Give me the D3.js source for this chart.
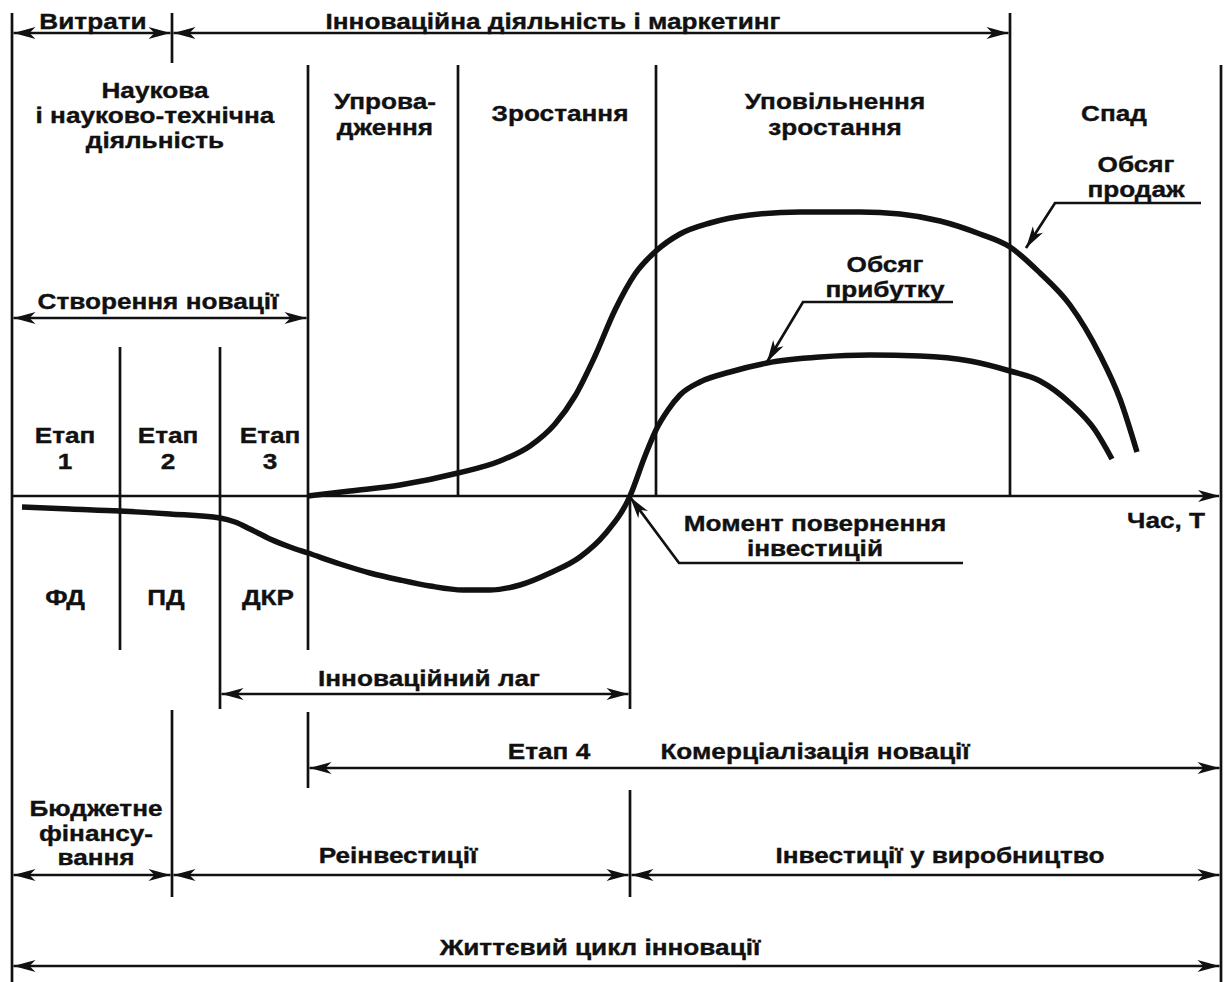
<!DOCTYPE html>
<html>
<head>
<meta charset="utf-8">
<script src="https://cdn.jsdelivr.net/npm/d3@7"></script>
<style>
  html, body { margin: 0; padding: 0; background: #fff; }
  svg text { font-family: "Liberation Sans", Arial, sans-serif; font-weight: bold; font-size: 22px; fill: #111; stroke: #111; stroke-width: 0.35px; }
</style>
</head>
<body>
<div id="chart"></div>
<script>
// time in conventional units (0 .. 121), value in conventional units (0 = break-even)
const salesCurve = [
  [29.6, 0], [33.8, 0.5], [38.8, 1.1], [44.6, 2.3], [48.8, 3.5], [51.8, 5], [54.3, 7.2],
  [56.3, 10], [58.3, 14], [60.3, 18.6], [62.3, 22.2], [64.4, 24.5], [66.8, 26.2], [69.8, 27.3],
  [73.8, 28.1], [78.8, 28.4], [84.8, 28.4], [88.8, 28.2], [92.8, 27.5], [96.8, 26.2],
  [99.8, 24.9], [102.8, 22.3], [105.8, 19.1], [108.8, 14.1], [110.8, 9.7], [112.5, 4.4]
]
const cashCurve = [
  [1, -1.1], [5.8, -1.3], [10.8, -1.5], [15.8, -1.8], [20.8, -2.2], [22.3, -2.6], [23.8, -3.3],
  [25.8, -4.3], [27.8, -5.1], [29.6, -5.7], [32.8, -6.8], [35.8, -7.7], [38.8, -8.4],
  [41.8, -9], [45.1, -9.4], [47.8, -9.4], [50.8, -8.9], [53.8, -7.7], [56.8, -6.1],
  [59.3, -3.8], [61.8, 0], [63.3, 4], [64.4, 6.6], [65.6, 8.6], [66.8, 10.1], [68.8, 11.4],
  [71.8, 12.4], [75.5, 13.3], [80.8, 13.9], [85.8, 14.1], [90.8, 14], [95.8, 13.5],
  [99.8, 12.5], [102.8, 11.5], [105.8, 9.3], [108.3, 6.6], [110, 3.7]
]

// moments on the time axis
const tStart = 0
const tStage1 = 10.8
const tBudget = 16
const tStage2 = 20.8
const tStage3 = 29.6
const tIntro = 44.6
const tPayback = 61.8
const tGrowth = 64.4
const tDecline = 99.8
const tEnd = 120.9

// pointers to the curves: [time, value] from label end to tip
const salesPointer = [[118.9, 29.3], [104.3, 29.3], [101.4, 24.8]]
const profitPointer = [[94.1, 19.4], [79.1, 19.4], [75.5, 13.4]]
const paybackPointer = [[95.1, -6.7], [66.7, -6.7], [tPayback, -0.1]]

const width = 1224
const height = 982

const x = d3.scaleLinear().domain([0, 121]).range([12, 1222])
const y = d3.scaleLinear().domain([-10, 30]).range([596, 196])

const svg = d3.select('#chart')
  .append('svg')
  .attr('width', width)
  .attr('height', height)

const ink = '#111'

// arrow head with its tip at (px, py), pointing by angle (deg)
function head (px, py, angle) {
  svg.append('path')
    .attr('d', 'M0,0L-22,-6L-16,0L-22,6Z')
    .attr('fill', ink)
    .attr('transform', `translate(${px},${py})rotate(${angle})`)
}

function vline (t, y1, y2) {
  svg.append('line')
    .attr('x1', x(t)).attr('x2', x(t))
    .attr('y1', y1).attr('y2', y2)
    .attr('stroke', ink)
    .attr('stroke-width', 2.7)
}

function span (t1, t2, row, left = true, right = true) {
  const x1 = x(t1) + 1.5
  const x2 = x(t2) - 1.5
  svg.append('line')
    .attr('x1', x1).attr('x2', x2)
    .attr('y1', row).attr('y2', row)
    .attr('stroke', ink)
    .attr('stroke-width', 2.7)
  if (left) head(x1, row, 180)
  if (right) head(x2, row, 0)
}

// vertical dividers
vline(tStart, 13, height)
vline(tBudget, 13, 63)
vline(tDecline, 13, y(0))
vline(tEnd, 65, height)
vline(tStage3, 65, 650)
vline(tIntro, 65, y(0))
vline(tGrowth, 65, y(0))
vline(tStage1, 347, 650)
vline(tStage2, 347, 709)
vline(tPayback, y(0), 709)
vline(tPayback, 790, 897)
vline(tBudget, 710, 897)
vline(tStage3, 712, 788)

// time axis
svg.append('line')
  .attr('x1', x(tStart)).attr('x2', x(tEnd) - 2)
  .attr('y1', y(0)).attr('y2', y(0))
  .attr('stroke', ink)
  .attr('stroke-width', 2.7)
head(x(tEnd) - 1, y(0), 0)

// dimension arrows
span(tStart, tBudget, 33)
span(tBudget, tDecline, 33)
span(tStart, tStage3, 318)
span(tStage2, tPayback, 694)
span(tStage3, tEnd, 768)
span(tStart, tBudget, 875)
span(tBudget, tPayback, 875)
span(tPayback, tEnd, 875)
span(tStart, tEnd, 966)

// curves
const line = d3.line()
  .x(d => x(d[0]))
  .y(d => y(d[1]))
  .curve(d3.curveMonotoneX)

svg.append('path')
  .datum(salesCurve)
  .attr('d', line)
  .attr('fill', 'none')
  .attr('stroke', ink)
  .attr('stroke-width', 5.5)

svg.append('path')
  .datum(cashCurve)
  .attr('d', line)
  .attr('fill', 'none')
  .attr('stroke', ink)
  .attr('stroke-width', 5.5)

// pointers
const straight = d3.line().x(d => x(d[0])).y(d => y(d[1]))
;[salesPointer, profitPointer, paybackPointer].forEach(p => {
  svg.append('path')
    .datum(p)
    .attr('d', straight)
    .attr('fill', 'none')
    .attr('stroke', ink)
    .attr('stroke-width', 2.7)
  const a = p[p.length - 2]
  const b = p[p.length - 1]
  const ang = Math.atan2(y(b[1]) - y(a[1]), x(b[0]) - x(a[0])) * 180 / Math.PI
  head(x(b[0]), y(b[1]), ang)
})

// labels
const labels = [
  ['Витрати', 93, 21],
  ['Інноваційна діяльність і маркетинг', 553, 21],
  ['Наукова', 155, 90],
  ['і науково-технічна', 155, 115],
  ['діяльність', 155, 140],
  ['Упрова-', 385, 101],
  ['дження', 385, 127],
  ['Зростання', 560, 113],
  ['Уповільнення', 835, 101],
  ['зростання', 835, 127],
  ['Спад', 1114, 113],
  ['Обсяг', 1136, 164],
  ['продаж', 1136, 189],
  ['Створення новації', 158, 301],
  ['Обсяг', 885, 264],
  ['прибутку', 885, 289],
  ['Етап', 65, 435], ['1', 65, 461],
  ['Етап', 168, 435], ['2', 168, 461],
  ['Етап', 270, 435], ['3', 270, 461],
  ['ФД', 65, 597],
  ['ПД', 166, 597],
  ['ДКР', 268, 597],
  ['Час, Т', 1166, 520],
  ['Момент повернення', 815, 523],
  ['інвестицій', 815, 548],
  ['Інноваційний лаг', 429, 678],
  ['Етап 4', 549, 751],
  ['Комерціалізація новації', 815, 751],
  ['Бюджетне', 96, 808],
  ['фінансу-', 96, 833],
  ['вання', 96, 857],
  ['Реінвестиції', 398, 855],
  ['Інвестиції у виробництво', 940, 855],
  ['Життєвий цикл інновації', 600, 947]
]

svg.append('g')
  .selectAll('text')
  .data(labels)
  .enter()
  .append('text')
  .attr('transform', d => `translate(${d[1]},${d[2]})scale(1.19,1)`)
  .attr('text-anchor', 'middle')
  .attr('dy', '0.36em')
  .text(d => d[0])
</script>
</body>
</html>
